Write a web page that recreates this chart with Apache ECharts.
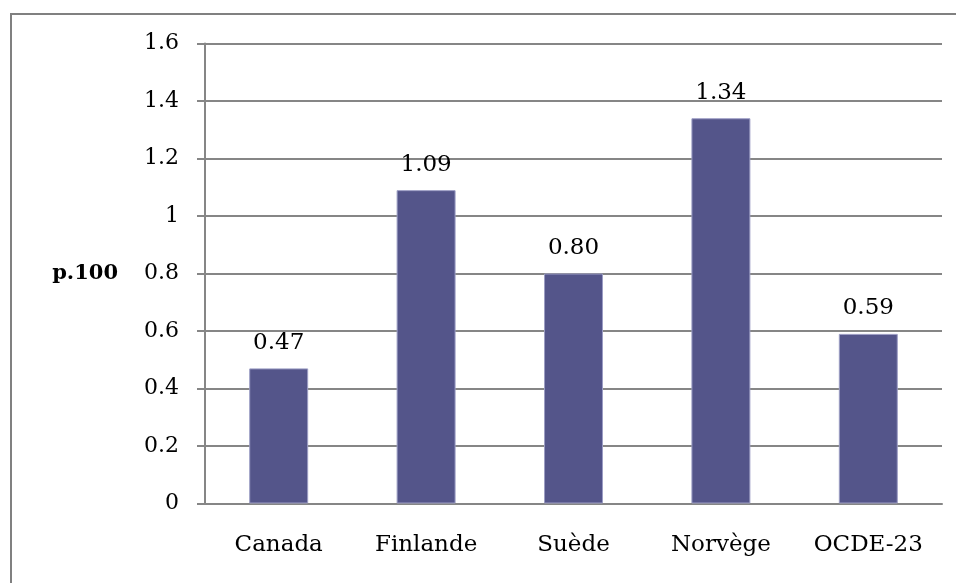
<!DOCTYPE html>
<html>
<head>
<meta charset="utf-8">
<script src="https://cdn.jsdelivr.net/npm/echarts@6/dist/echarts.min.js"></script>
<style>
html,body{margin:0;padding:0;background:#fff;}
#chart{width:956px;height:583px;}
</style>
</head>
<body>
<div id="chart"></div>
<script>
const categories = ['Canada', 'Finlande', 'Suède', 'Norvège', 'OCDE-23'];
const values = [0.47, 1.09, 0.80, 1.34, 0.59];
const yTicks = [0, 0.2, 0.4, 0.6, 0.8, 1, 1.2, 1.4, 1.6];

const FONT = '"DejaVu Serif", serif';
const chart = echarts.init(document.getElementById('chart'), null, {renderer: 'canvas'});
chart.setOption({
  animation: false,
  backgroundColor: '#ffffff',
  graphic: [{
    type: 'rect',
    shape: {x: 11, y: 14, width: 1100, height: 700},
    style: {fill: 'none', stroke: '#808080', lineWidth: 2},
    silent: true
  }],
  grid: {left: 205, right: 14, top: 43.5, bottom: 79.5, containLabel: false},
  xAxis: {
    type: 'category',
    data: categories,
    axisLine: {show: true, lineStyle: {color: '#868686', width: 2}},
    axisTick: {show: false},
    axisLabel: {color: '#000', fontFamily: FONT, fontSize: 23, margin: 30}
  },
  yAxis: {
    type: 'value',
    min: 0, max: 1.6, interval: 0.2,
    name: 'p.100',
    nameLocation: 'middle',
    nameRotate: 0,
    nameGap: 87,
    nameTextStyle: {color: '#000', fontFamily: FONT, fontSize: 21, fontWeight: 'bold'},
    axisLine: {show: true, lineStyle: {color: '#868686', width: 2}},
    axisTick: {show: true, length: 8, lineStyle: {color: '#868686', width: 2}},
    splitLine: {show: true, lineStyle: {color: '#868686', width: 2}},
    axisLabel: {
      color: '#000', fontFamily: FONT, fontSize: 22, margin: 26,
      formatter: function (v) {
        const t = yTicks.find(x => Math.abs(x - v) < 1e-9);
        return String(t !== undefined ? t : v);
      }
    }
  },
  series: [{
    type: 'bar',
    data: values,
    barWidth: '40%',
    itemStyle: {color: '#54558a', borderColor: '#9c9dc4', borderWidth: 1},
    label: {
      show: true, position: 'top', distance: 14,
      color: '#000', fontFamily: FONT, fontSize: 23,
      formatter: function (p) { return p.value.toFixed(2); }
    }
  }]
});
</script>
</body>
</html>
